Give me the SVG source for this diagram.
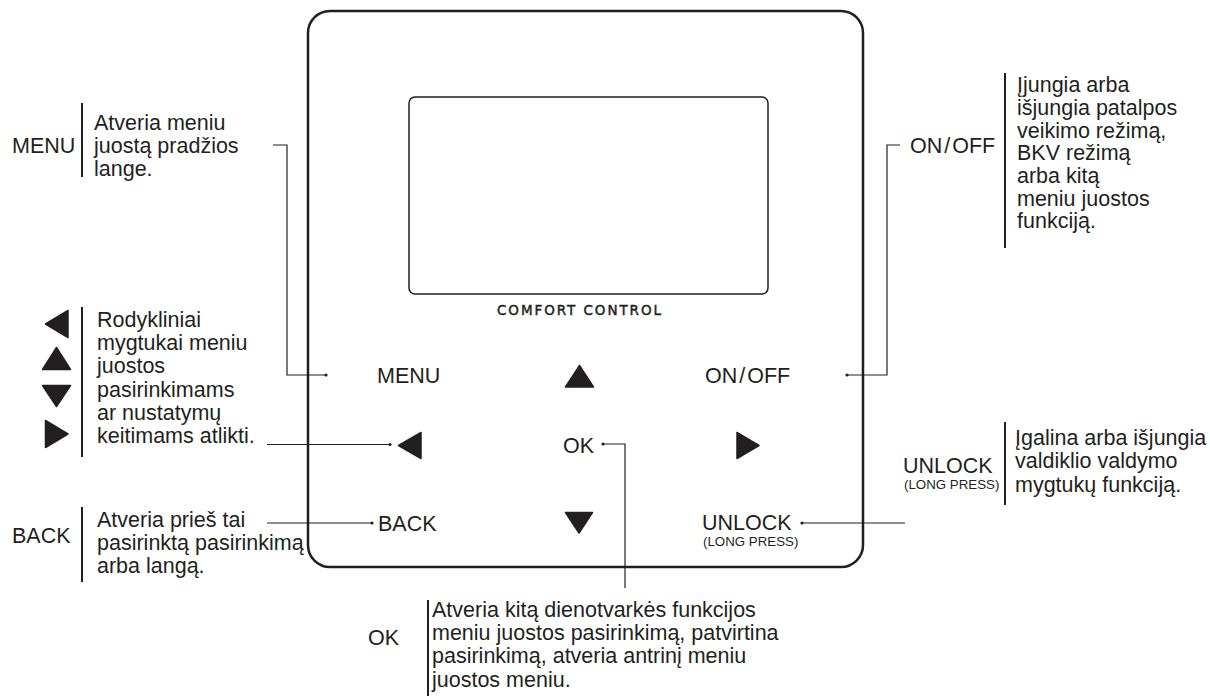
<svg xmlns="http://www.w3.org/2000/svg" width="1210" height="698" viewBox="0 0 1210 698">
<style>
text{font-family:"Liberation Sans",Arial,sans-serif;fill:#231f20}
.t{font-size:21.5px}
.s{font-size:13.3px}
.bar{stroke:#231f20;stroke-width:2;fill:none}
.con{stroke:#231f20;stroke-width:1.2;fill:none}
.tri{fill:#231f20;stroke:#231f20;stroke-width:1.5;stroke-linejoin:round}
.dot{fill:#231f20}
</style>
<rect width="1210" height="698" fill="#fff"/>
<g id="device">
<rect x="308" y="11" width="555" height="556" rx="22" fill="none" stroke="#231f20" stroke-width="2.5"/>
<rect x="409" y="97" width="359" height="197" rx="6" fill="none" stroke="#231f20" stroke-width="1.5"/>
<text x="579" y="315" font-size="13.5" text-anchor="middle" textLength="164" lengthAdjust="spacing" stroke="#231f20" stroke-width="0.45" style="font-family:'DejaVu Sans',sans-serif">COMFORT  CONTROL</text>
</g>
<g id="btn-menu"><text class="t" x="377" y="383">MENU</text></g>
<g id="btn-up"><polygon class="tri" points="565.5,387 593.5,387 579.5,365.5"/></g>
<g id="btn-onoff"><text class="t" x="705" y="383">ON<tspan dx="2">/</tspan><tspan dx="2">OFF</tspan></text></g>
<g id="btn-left"><polygon class="tri" points="421,432.5 421,458.5 398.5,445.5"/></g>
<g id="btn-ok"><text class="t" x="563" y="453">OK</text></g>
<g id="btn-right"><polygon class="tri" points="737,432.5 737,458.5 759,445.5"/></g>
<g id="btn-back"><text class="t" x="378" y="531">BACK</text></g>
<g id="btn-down"><polygon class="tri" points="565.5,512.5 592.5,512.5 579,533"/></g>
<g id="btn-unlock"><text class="t" x="702" y="530">UNLOCK</text><text class="s" x="703" y="546">(LONG PRESS)</text></g>

<g id="connectors">
<path class="con" d="M273,145H287V375H326"/><circle class="dot" cx="326" cy="375" r="1.6"/>
<path class="con" d="M900,145H887V375H847"/><circle class="dot" cx="847" cy="375" r="1.6"/>
<path class="con" d="M267,444.5H390" stroke-width="1.5"/><circle class="dot" cx="390" cy="444.5" r="1.6"/>
<path class="con" d="M267,523H372" stroke-width="1.5"/><circle class="dot" cx="372" cy="523" r="1.6"/>
<path class="con" d="M603,444H625V588"/><circle class="dot" cx="603" cy="444" r="1.6"/>
<path class="con" d="M802,523H905" stroke-width="1.5"/><circle class="dot" cx="802" cy="523" r="1.6"/>
</g>

<g id="label-menu">
<text class="t" x="12" y="153">MENU</text>
<line class="bar" x1="82" y1="103" x2="82" y2="177"/>
<text class="t" x="94" y="130">Atveria meniu</text>
<text class="t" x="94" y="153">juostą pradžios</text>
<text class="t" x="94" y="176">lange.</text>
</g>

<g id="label-onoff">
<text class="t" x="910" y="153">ON<tspan dx="2">/</tspan><tspan dx="2">OFF</tspan></text>
<line class="bar" x1="1005" y1="73" x2="1005" y2="248"/>
<text class="t" x="1017" y="92">Įjungia arba</text>
<text class="t" x="1017" y="115">išjungia patalpos</text>
<text class="t" x="1017" y="137.5">veikimo režimą,</text>
<text class="t" x="1017" y="160">BKV režimą</text>
<text class="t" x="1017" y="183">arba kitą</text>
<text class="t" x="1017" y="205.5">meniu juostos</text>
<text class="t" x="1017" y="228">funkciją.</text>
</g>

<g id="label-arrows">
<polygon class="tri" points="68,310.5 68,337.5 45.5,324"/>
<polygon class="tri" points="42.5,369.5 70.5,369.5 56.5,347.5"/>
<polygon class="tri" points="42.5,385.5 70.5,385.5 56.5,406.5"/>
<polygon class="tri" points="45.5,420.5 45.5,447.5 68,434"/>
<line class="bar" x1="82" y1="307" x2="82" y2="457"/>
<text class="t" x="97" y="327">Rodykliniai</text>
<text class="t" x="97" y="350">mygtukai meniu</text>
<text class="t" x="97" y="373">juostos</text>
<text class="t" x="97" y="397">pasirinkimams</text>
<text class="t" x="97" y="420">ar nustatymų</text>
<text class="t" x="97" y="443">keitimams atlikti.</text>
</g>

<g id="label-back">
<text class="t" x="12" y="543">BACK</text>
<line class="bar" x1="82" y1="507" x2="82" y2="582"/>
<text class="t" x="97" y="527">Atveria prieš tai</text>
<text class="t" x="97" y="550">pasirinktą pasirinkimą</text>
<text class="t" x="97" y="573">arba langą.</text>
</g>

<g id="label-unlock">
<text class="t" x="903" y="473">UNLOCK</text>
<text class="s" x="904" y="489">(LONG PRESS)</text>
<line class="bar" x1="1005" y1="422" x2="1005" y2="505"/>
<text class="t" x="1015" y="445">Įgalina arba išjungia</text>
<text class="t" x="1015" y="468">valdiklio valdymo</text>
<text class="t" x="1015" y="492">mygtukų funkciją.</text>
</g>

<g id="label-ok">
<text class="t" x="368" y="645">OK</text>
<line class="bar" x1="428" y1="600" x2="428" y2="696"/>
<text class="t" x="432" y="617">Atveria kitą dienotvarkės funkcijos</text>
<text class="t" x="432" y="640">meniu juostos pasirinkimą, patvirtina</text>
<text class="t" x="432" y="663">pasirinkimą, atveria antrinį meniu</text>
<text class="t" x="432" y="687">juostos meniu.</text>
</g>
</svg>
